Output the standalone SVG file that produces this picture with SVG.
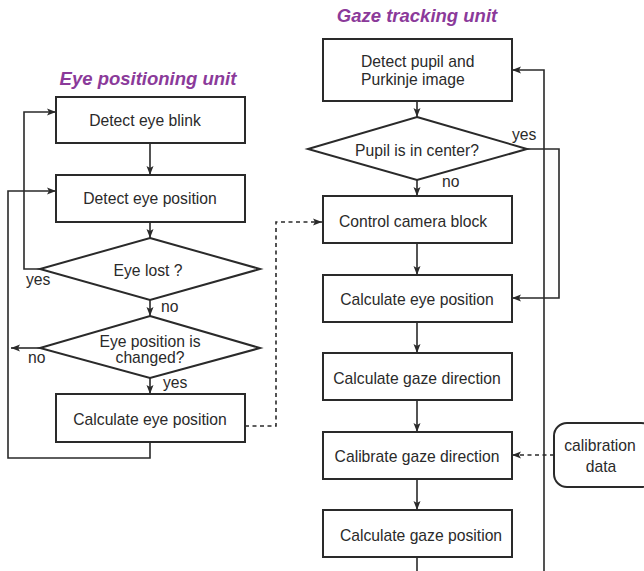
<svg xmlns="http://www.w3.org/2000/svg" width="644" height="571" viewBox="0 0 644 571">
<style>
.box{fill:#fff;stroke:#2a2a2a;stroke-width:2}
.t{font-family:"Liberation Sans",Arial,sans-serif;font-size:15.7px;fill:#2a2a2a;text-anchor:middle}
.ts{font-family:"Liberation Sans",Arial,sans-serif;font-size:15.7px;fill:#2a2a2a}
.title{font-family:"Liberation Sans",Arial,sans-serif;font-size:18.5px;font-weight:bold;font-style:italic;fill:#8b3a9a;text-anchor:middle}
.ln{fill:none;stroke:#2a2a2a;stroke-width:1.6}
.arr{marker-end:url(#ah)}
.dash{stroke-dasharray:4,3.5}
</style>
<defs>
<marker id="ah" markerUnits="userSpaceOnUse" markerWidth="10" markerHeight="8" refX="9" refY="4" orient="auto">
<path d="M0,0.5 L9,4 L0,7.5 L2,4 Z" fill="#2a2a2a"/>
</marker>
</defs>
<text class="title" x="148" y="85">Eye positioning unit</text>
<text class="title" x="417" y="22">Gaze tracking unit</text>
<g id="connectors">
<path class="ln arr" d="M150,143 V175"/>
<path class="ln arr" d="M150,222 V238"/>
<path class="ln arr" d="M150,300 V316"/>
<path class="ln arr" d="M150,378 V394"/>
<path class="ln arr" d="M40,269 H24 V112 H56"/>
<path class="ln arr" d="M40,348 H11"/>
<path class="ln arr" d="M150,442 V458 H8 V191 H56"/>
<path class="ln arr dash" d="M245,426 H276 V222 H322"/>
<path class="ln arr" d="M417,101 V117"/>
<path class="ln arr" d="M417,180 V196"/>
<path class="ln arr" d="M417,243 V275"/>
<path class="ln arr" d="M417,322 V353"/>
<path class="ln arr" d="M417,400 V432"/>
<path class="ln arr" d="M417,479 V510"/>
<path class="ln" d="M417,557 V571"/>
<path class="ln arr" d="M527,149 H559 V298 H512"/>
<path class="ln arr" d="M544,571 V70 H512"/>
<path class="ln arr dash" d="M554,455 H512"/>
</g>
<g id="n_blink"><rect class="box" x="56" y="97" width="189" height="46"/><text class="t" x="145" y="126">Detect eye blink</text></g>
<g id="n_detpos"><rect class="box" x="56" y="175" width="189" height="47"/><text class="t" x="150" y="204">Detect eye position</text></g>
<g id="n_lost"><polygon class="box" points="150,238 260,269 150,300 40,269"/><text class="t" x="148" y="276">Eye lost ?</text></g>
<g id="n_changed"><polygon class="box" points="150,316 260,348 150,378 40,348"/><text class="t" x="150" y="347">Eye position is</text><text class="t" x="150" y="363">changed?</text></g>
<g id="n_calcpos_l"><rect class="box" x="56" y="394" width="189" height="48"/><text class="t" x="150" y="425">Calculate eye position</text></g>
<g id="labels_l">
<text class="ts" x="26" y="285">yes</text>
<text class="ts" x="161" y="312">no</text>
<text class="ts" x="28" y="363">no</text>
<text class="ts" x="163" y="388">yes</text>
</g>
<g id="n_pupil"><rect class="box" x="323" y="39" width="189" height="62"/><text class="ts" x="361" y="67">Detect pupil and</text><text class="ts" x="361" y="85">Purkinje image</text></g>
<g id="n_center"><polygon class="box" points="417,117 527,149 417,180 308,149"/><text class="t" x="417" y="156">Pupil is in center?</text></g>
<g id="n_camera"><rect class="box" x="323" y="196" width="189" height="47"/><text class="t" x="413" y="227">Control camera block</text></g>
<g id="n_calcpos_r"><rect class="box" x="323" y="275" width="189" height="47"/><text class="t" x="417" y="305">Calculate eye position</text></g>
<g id="n_gazedir"><rect class="box" x="323" y="353" width="189" height="47"/><text class="t" x="417" y="384">Calculate gaze direction</text></g>
<g id="n_calib"><rect class="box" x="323" y="432" width="189" height="47"/><text class="t" x="417" y="462">Calibrate gaze direction</text></g>
<g id="n_gazepos"><rect class="box" x="323" y="510" width="189" height="47"/><text class="t" x="421" y="541">Calculate gaze position</text></g>
<g id="n_caldata"><rect class="box" x="554" y="423" width="100" height="64" rx="13"/><text class="t" x="600" y="451">calibration</text><text class="t" x="601" y="472">data</text></g>
<g id="labels_r">
<text class="ts" x="512" y="140">yes</text>
<text class="ts" x="442" y="187">no</text>
</g>
</svg>
